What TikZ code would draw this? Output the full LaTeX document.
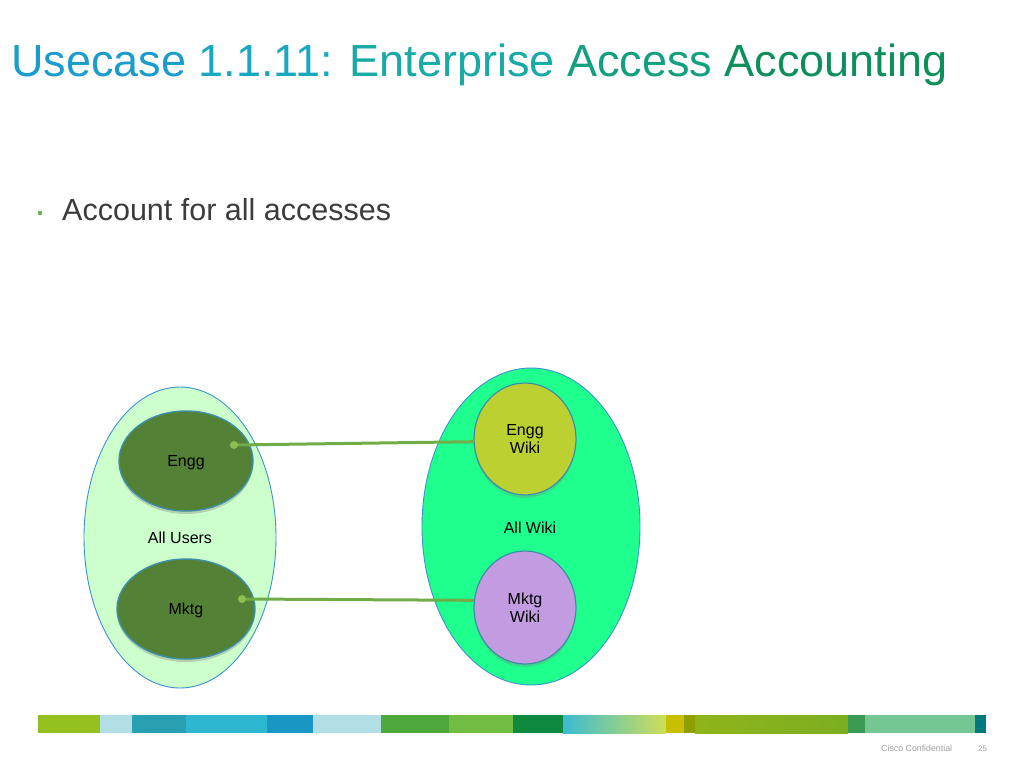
\documentclass[tikz,border=0pt]{standalone}
\usepackage{fontspec}
\setmainfont{Liberation Sans}
\usetikzlibrary{shapes.geometric,shadows}
\definecolor{tA}{HTML}{1A9CCC}
\definecolor{tB}{HTML}{1AA8C0}
\definecolor{tC}{HTML}{17AAA6}
\definecolor{tD}{HTML}{12A07E}
\definecolor{tE}{HTML}{0C8F5A}
\definecolor{bodytxt}{HTML}{3C3C3C}
\definecolor{bulletc}{HTML}{6AB04C}
\definecolor{usersfill}{HTML}{CCFFCC}
\definecolor{wikifill}{HTML}{1EFF8E}
\definecolor{outline}{HTML}{3D93CF}
\definecolor{grpfill}{HTML}{538135}
\definecolor{grpline}{HTML}{3E8FA6}
\definecolor{enggwiki}{HTML}{BCD131}
\definecolor{mktgwiki}{HTML}{C39BE0}
\definecolor{linkc}{HTML}{70AD47}
\definecolor{dotc}{HTML}{8CC152}
\definecolor{footc}{HTML}{A0A0A0}
\definecolor{b1}{HTML}{94C11F}
\definecolor{b2}{HTML}{B2DEE6}
\definecolor{b3}{HTML}{28A0B1}
\definecolor{b4}{HTML}{2CB6D0}
\definecolor{b5}{HTML}{1A97C5}
\definecolor{b6}{HTML}{4EA83B}
\definecolor{b7}{HTML}{72BD43}
\definecolor{b8}{HTML}{0E893D}
\definecolor{b9a}{HTML}{3CBCD2}
\definecolor{b9b}{HTML}{CFDE58}
\definecolor{b10}{HTML}{C7BF00}
\definecolor{b11}{HTML}{8F9E00}
\definecolor{b12a}{HTML}{8FB41A}
\definecolor{b12b}{HTML}{7CAE22}
\definecolor{b13}{HTML}{3C9B52}
\definecolor{b14}{HTML}{74C692}
\definecolor{b15}{HTML}{00797F}
\tikzset{
  outer/.style={ellipse, draw=outline, line width=0.9pt, inner sep=0pt},
  grp/.style={ellipse, draw=grpline, line width=1.4pt, fill=grpfill, inner sep=0pt,
     drop shadow={opacity=0.35, shadow xshift=0pt, shadow yshift=-3pt}},
  wiki/.style={ellipse, draw=grpline, line width=1.2pt, inner sep=0pt, align=center,
     font=\fontsize{16}{18.5}\selectfont,
     drop shadow={opacity=0.3, shadow xshift=0pt, shadow yshift=-3pt}},
  lbl/.style={font=\fontsize{16}{18}\selectfont, text=black, inner sep=0pt},
  link/.style={draw=linkc, line width=3pt},
  linkdot/.style={fill=dotc}
}
\begin{document}
\begin{tikzpicture}[x=1pt,y=-1pt]
\useasboundingbox[fill=white] (0,0) rectangle (1024,768);
% title
\node[anchor=base west, inner sep=0pt, font=\fontsize{45}{50}\selectfont] (title) at (11,77)
  {{\color{tA}Usecase }{\color{tB}1.1.11: }{\color{tC}Enterprise }{\color{tD}Access }{\color{tE}Accounting}};
% bullet
\fill[bulletc] (40,213) circle (2.3);
\node[anchor=base west, inner sep=0pt, font=\fontsize{30.5}{34}\selectfont, text=bodytxt] (bullet) at (62,220) {Account for all accesses};
% left group
\node[outer, fill=usersfill, minimum width=192, minimum height=301] (users) at (180,537.5) {};
\node[grp, minimum width=134, minimum height=100] (engg) at (186,461) {};
\node[lbl] at (186,463) {Engg};
\node[grp, minimum width=138, minimum height=100] (mktg) at (186,609) {};
\node[lbl] at (186,610) {Mktg};
\node[lbl] (userslbl) at (180,538) {All Users};
% right group
\node[outer, fill=wikifill, minimum width=218, minimum height=317] (wikis) at (531,526.5) {};
\node[lbl] (wikilbl) at (530,528) {All Wiki};
\node[wiki, fill=enggwiki, minimum width=102, minimum height=112] (ew) at (525,439) {Engg\\Wiki};
\node[wiki, fill=mktgwiki, minimum width=102, minimum height=113] (mw) at (525,607.5) {Mktg\\Wiki};
% connectors
\coordinate (d1) at (234,445);
\coordinate (d2) at (242,599);
\draw[link] (d1) -- (ew.183);
\draw[link] (d2) -- (mw.172);
\fill[linkdot] (d1) circle (4);
\fill[linkdot] (d2) circle (4);
% footer bar
\fill[b1] (38,715) rectangle (100,733);
\fill[b2] (100,715) rectangle (131.5,733);
\fill[b3] (131.5,715) rectangle (186,733);
\fill[b4] (186,715) rectangle (267,733);
\fill[b5] (267,715) rectangle (313,733);
\fill[b2] (313,715) rectangle (381,733);
\fill[b6] (381,715) rectangle (449,733);
\fill[b7] (449,715) rectangle (513,733);
\fill[b8] (513,715) rectangle (563,733);
\shade[left color=b9a, right color=b9b] (563,715) rectangle (666,733);
\fill[b10] (666,715) rectangle (684,733);
\fill[b11] (684,715) rectangle (695,733);
\shade[left color=b12a, right color=b12b] (695,715) rectangle (848,733);
\fill[b13] (848,715) rectangle (865,733);
\fill[b14] (865,715) rectangle (975,733);
\fill[b15] (975,715) rectangle (986,733);
% footer text
\node[anchor=base west, inner sep=0pt, text=footc, font=\fontsize{8.8}{10}\selectfont] (conf) at (881,751) {Cisco Confidential};
\node[anchor=base west, inner sep=0pt, text=footc, font=\fontsize{8}{10}\selectfont] (pg) at (978,751) {25};
\end{tikzpicture}
\end{document}
